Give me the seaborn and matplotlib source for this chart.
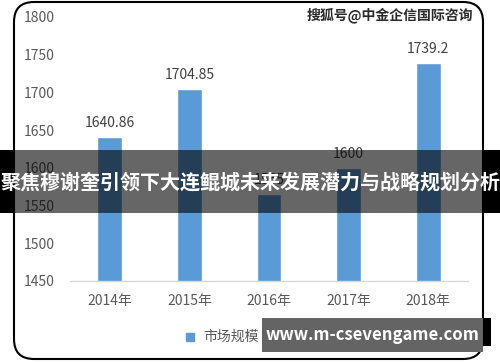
import matplotlib
matplotlib.use("Agg")
import matplotlib.pyplot as plt
import seaborn as sns
import pandas as pd
from matplotlib.patches import FancyBboxPatch, Rectangle

years = ["2014年", "2015年", "2016年", "2017年", "2018年"]
values = [1640.86, 1704.85, 1565.0, 1600, 1739.2]
value_labels = ["1640.86", "1704.85", "1565", "1600", "1739.2"]
yticks = [1450, 1500, 1550, 1600, 1650, 1700, 1750, 1800]
legend_label = "市场规模（亿元）"
banner_title = "聚焦穆谢奎引领下大连鲲城未来发展潜力与战略规划分析"
watermark = "搜狐号@中金企信国际咨询"
url_text = "www.m-csevengame.com"

sns.set_theme(style="white")
plt.rcParams['font.family'] = ['Noto Sans CJK SC', 'DejaVu Sans']

W, H = 500, 362
fig = plt.figure(figsize=(W / 100, H / 100), dpi=100)
fig.patch.set_facecolor("white")

def fx(px):
    return px / W

def fy(py):
    return 1 - py / H

ax = fig.add_axes([fx(70), fy(281), fx(468) - fx(70), fy(17) - fy(281)])
df = pd.DataFrame({"year": years, "value": values})
sns.barplot(data=df, x="year", y="value", color="#5B9BD5", width=0.31,
            saturation=1, ax=ax, zorder=2)
ax.set_ylim(1450, 1800)
ax.set_yticks(yticks)
ax.set_xlabel("")
ax.set_ylabel("")
for s in ["top", "right", "left"]:
    ax.spines[s].set_visible(False)
ax.spines["bottom"].set_color("#D9D9D9")
ax.spines["bottom"].set_linewidth(1.0)
ax.tick_params(axis="y", length=0, pad=11, labelsize=10, labelcolor="#595959")
ax.tick_params(axis="x", length=0, pad=9, labelsize=10, labelcolor="#595959")
ax.set_facecolor("white")

for i, (v, lab) in enumerate(zip(values, value_labels)):
    ax.annotate(lab, (i, v), xytext=(0, 5), textcoords="offset points",
                ha="center", va="bottom", fontsize=10, color="#404040")

# legend
fig.add_artist(Rectangle((fx(186), fy(341)), fx(8), fy(333) - fy(341),
                         transform=fig.transFigure, color="#5B9BD5", zorder=3))
fig.text(fx(203), fy(337), legend_label, ha="left", va="center",
         fontsize=10, color="#595959", zorder=3)

# rounded frame
frame = FancyBboxPatch((fx(14), fy(359)), fx(483) - fx(14), fy(2) - fy(359),
                       boxstyle="round,pad=0,rounding_size=0.04",
                       transform=fig.transFigure, fill=False,
                       edgecolor="black", linewidth=1.5, zorder=4,
                       mutation_aspect=W / H)
fig.add_artist(frame)

# watermark
fig.text(fx(473), fy(15), watermark, ha="right", va="center",
         fontsize=10, color="#2a2a2a", fontweight="bold", zorder=5)

# central banner
fig.add_artist(Rectangle((0, fy(213)), 1, fy(150) - fy(213),
                         transform=fig.transFigure, color="black",
                         alpha=0.6, zorder=6, linewidth=0))
fig.add_artist(Rectangle((0, fy(213)), fx(14), fy(150) - fy(213),
                         transform=fig.transFigure, color="black",
                         zorder=6, linewidth=0))
fig.add_artist(Rectangle((fx(483), fy(213)), 1 - fx(483), fy(150) - fy(213),
                         transform=fig.transFigure, color="black",
                         zorder=6, linewidth=0))
fig.text(0.5, fy(182), banner_title, ha="center", va="center",
         fontsize=14.4, color="white", fontweight="bold", zorder=7)

# bottom url banner
fig.add_artist(Rectangle((fx(483), fy(346)), fx(491) - fx(483), fy(318) - fy(346),
                         transform=fig.transFigure, color="black",
                         zorder=6, linewidth=0))
fig.add_artist(Rectangle((fx(262), fy(352)), fx(483) - fx(262), fy(318) - fy(352),
                         transform=fig.transFigure, color="#646464",
                         zorder=6, linewidth=0))
fig.text(fx(372), fy(335), url_text, ha="center", va="center",
         fontsize=12, color="white", fontweight="bold", zorder=7)

fig.savefig("out.png", dpi=100)
